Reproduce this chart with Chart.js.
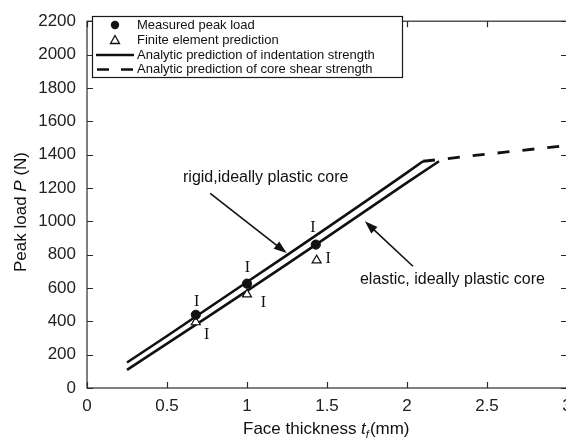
<!DOCTYPE html>
<html>
<head>
<meta charset="utf-8">
<script src="https://cdn.jsdelivr.net/npm/chart.js@4.4.1/dist/chart.umd.min.js"></script>
<style>
  html, body { margin: 0; padding: 0; background: #fff; overflow: hidden; }
  #wrap { width: 580px; height: 444px; }
</style>
</head>
<body>
<div id="wrap"><canvas id="c" width="580" height="444"></canvas></div>
<script>
// Peak load versus face thickness of sandwich panels
const measuredT = [0.68, 1.0, 1.43];
const measuredP = [439, 626, 860];

const feT = [0.68, 1.0, 1.435];
const feP = [395, 562, 766];

// Analytic indentation strength, rigid ideally plastic core
const rigidT = [0.25, 0.5, 0.75, 1.0, 1.25, 1.5, 1.75, 2.0, 2.1];
const rigidP = [153, 312, 474, 636, 797, 960, 1125, 1292, 1360];

// Analytic indentation strength, elastic ideally plastic core
const elasticT = [0.25, 0.5, 0.75, 1.0, 1.25, 1.5, 1.75, 2.0, 2.2];
const elasticP = [109, 266, 424, 583, 743, 905, 1068, 1232, 1360];

// Analytic core shear strength
const shearT = [2.1, 2.2, 2.4, 2.6, 2.8, 3.0];
const shearP = [1360, 1370, 1392, 1413, 1434, 1455];

const xTicks = [0, 0.5, 1, 1.5, 2, 2.5, 3];
const yTicks = [0, 200, 400, 600, 800, 1000, 1200, 1400, 1600, 1800, 2000, 2200];

const legendLabels = [
  'Measured peak load',
  'Finite element prediction',
  'Analytic prediction of indentation strength',
  'Analytic prediction of core shear strength'
];

const SANS = '"Liberation Sans", Arial, sans-serif';
const SERIF = '"Liberation Serif", "Times New Roman", serif';

const pts = (xs, ys) => xs.map((x, i) => ({ x: x, y: ys[i] }));

// "I" scatter-band markers placed next to each measurement, in data units
const bandMarks = [
  { x: 0.686, y: 518 }, { x: 1.002, y: 718 }, { x: 1.412, y: 963 },
  { x: 0.748, y: 319 }, { x: 1.102, y: 514 }, { x: 1.508, y: 776 }
];

const notes = [
  { text: 'rigid,ideally plastic core', x: 0.6, y: 1261,
    arrow: { from: { x: 0.77, y: 1167 }, to: { x: 1.248, y: 809 } } },
  { text: 'elastic, ideally plastic core', x: 1.706, y: 648,
    arrow: { from: { x: 2.037, y: 730 }, to: { x: 1.737, y: 1000 } } }
];

function arrow(ctx, x1, y1, x2, y2) {
  const a = Math.atan2(y2 - y1, x2 - x1);
  const L = 13, W = 4.5;
  ctx.beginPath();
  ctx.moveTo(x1, y1);
  ctx.lineTo(x2 - Math.cos(a) * (L - 2), y2 - Math.sin(a) * (L - 2));
  ctx.stroke();
  ctx.beginPath();
  ctx.moveTo(x2, y2);
  ctx.lineTo(x2 - Math.cos(a) * L - Math.sin(a) * W, y2 - Math.sin(a) * L + Math.cos(a) * W);
  ctx.lineTo(x2 - Math.cos(a) * L + Math.sin(a) * W, y2 - Math.sin(a) * L - Math.cos(a) * W);
  ctx.closePath();
  ctx.fill();
}

const decorations = {
  id: 'decorations',
  afterDraw(chart) {
    const ctx = chart.ctx;
    const xs = chart.scales.x, ys = chart.scales.y;
    const a = chart.chartArea;
    ctx.save();

    // frame with inward ticks on all four sides
    ctx.strokeStyle = '#2a2a2a';
    ctx.lineWidth = 1.2;
    ctx.strokeRect(a.left, a.top, a.right - a.left, a.bottom - a.top);
    ctx.beginPath();
    const tl = 6;
    xTicks.forEach(v => {
      const px = Math.round(xs.getPixelForValue(v)) + 0.5;
      ctx.moveTo(px, a.bottom); ctx.lineTo(px, a.bottom - tl);
      ctx.moveTo(px, a.top); ctx.lineTo(px, a.top + tl);
    });
    yTicks.forEach(v => {
      const py = Math.round(ys.getPixelForValue(v)) + 0.5;
      ctx.moveTo(a.left, py); ctx.lineTo(a.left + tl, py);
      ctx.moveTo(a.right, py); ctx.lineTo(a.right - tl, py);
    });
    ctx.stroke();

    // "I" markers
    ctx.fillStyle = '#111';
    ctx.font = '16px ' + SERIF;
    ctx.textAlign = 'center';
    ctx.textBaseline = 'middle';
    bandMarks.forEach(m => {
      ctx.fillText('I', xs.getPixelForValue(m.x), ys.getPixelForValue(m.y));
    });

    // annotations with arrows
    ctx.font = '16px ' + SANS;
    ctx.textAlign = 'left';
    ctx.strokeStyle = '#111';
    ctx.lineWidth = 1.6;
    notes.forEach(n => {
      ctx.fillText(n.text, xs.getPixelForValue(n.x), ys.getPixelForValue(n.y));
      arrow(ctx,
        xs.getPixelForValue(n.arrow.from.x), ys.getPixelForValue(n.arrow.from.y),
        xs.getPixelForValue(n.arrow.to.x), ys.getPixelForValue(n.arrow.to.y));
    });

    // axis titles
    ctx.fillStyle = '#111';
    ctx.textBaseline = 'alphabetic';
    ctx.font = '17px ' + SANS;
    let x = 243, y = 434;
    const parts = [
      ['Face thickness ', '17px ' + SANS, 0],
      ['t', 'italic 17px ' + SANS, 0],
      ['f', 'italic 11px ' + SANS, 4],
      ['(mm)', '17px ' + SANS, 0]
    ];
    parts.forEach(p => {
      ctx.font = p[1];
      ctx.fillText(p[0], x, y + p[2]);
      x += ctx.measureText(p[0]).width + (p[0] === 'f' ? 1 : 0);
    });

    ctx.save();
    ctx.translate(26, 272);
    ctx.rotate(-Math.PI / 2);
    let tx = 0;
    [['Peak load ', '17px ' + SANS], ['P', 'italic 17px ' + SANS], [' (N)', '17px ' + SANS]].forEach(p => {
      ctx.font = p[1];
      ctx.fillText(p[0], tx, 0);
      tx += ctx.measureText(p[0]).width;
    });
    ctx.restore();

    // legend box
    const bx = 92.5, by = 16.5, bw = 310, bh = 61;
    ctx.fillStyle = '#fff';
    ctx.fillRect(bx, by, bw, bh);
    ctx.strokeStyle = '#1a1a1a';
    ctx.lineWidth = 1.2;
    ctx.strokeRect(bx, by, bw, bh);

    const rows = [25, 40, 55, 69.5];
    const mx = 115, textX = 137;
    ctx.fillStyle = '#111';
    ctx.beginPath();
    ctx.arc(mx, rows[0], 4.2, 0, Math.PI * 2);
    ctx.fill();

    ctx.lineWidth = 1.3;
    ctx.strokeStyle = '#111';
    ctx.beginPath();
    ctx.moveTo(mx, rows[1] - 4.5);
    ctx.lineTo(mx + 4.5, rows[1] + 3.5);
    ctx.lineTo(mx - 4.5, rows[1] + 3.5);
    ctx.closePath();
    ctx.stroke();

    ctx.lineWidth = 2.5;
    ctx.beginPath();
    ctx.moveTo(96, rows[2]); ctx.lineTo(134, rows[2]);
    ctx.stroke();
    ctx.setLineDash([12, 12]);
    ctx.beginPath();
    ctx.moveTo(97, rows[3]); ctx.lineTo(134, rows[3]);
    ctx.stroke();
    ctx.setLineDash([]);

    ctx.font = '13px ' + SANS;
    ctx.textAlign = 'left';
    ctx.textBaseline = 'middle';
    legendLabels.forEach((t, i) => ctx.fillText(t, textX, rows[i]));

    ctx.restore();
  }
};

new Chart(document.getElementById('c'), {
  type: 'scatter',
  data: {
    datasets: [
      { label: legendLabels[0], data: pts(measuredT, measuredP), order: 0,
        pointStyle: 'circle', pointRadius: 4.6, backgroundColor: '#111', borderColor: '#111',
        borderWidth: 1, showLine: false },
      { label: legendLabels[1], data: pts(feT, feP), order: 1,
        pointStyle: 'triangle', pointRadius: 5.2, backgroundColor: '#fff', borderColor: '#111',
        borderWidth: 1.2, showLine: false },
      { label: 'rigid', data: pts(rigidT, rigidP), order: 2,
        showLine: true, pointRadius: 0, borderColor: '#111', borderWidth: 2.6, tension: 0 },
      { label: 'elastic', data: pts(elasticT, elasticP), order: 3,
        showLine: true, pointRadius: 0, borderColor: '#111', borderWidth: 2.6, tension: 0 },
      { label: legendLabels[3], data: pts(shearT, shearP), order: 4,
        showLine: true, pointRadius: 0, borderColor: '#111', borderWidth: 2.8,
        borderDash: [12, 13], tension: 0 }
    ]
  },
  options: {
    responsive: false,
    animation: false,
    layout: { padding: { left: 0, top: 11, right: 13, bottom: 0 } },
    plugins: { legend: { display: false }, tooltip: { enabled: false } },
    scales: {
      x: {
        type: 'linear', min: 0, max: 3,
        afterBuildTicks(s) { s.ticks = xTicks.map(v => ({ value: v })); },
        afterFit(s) { s.height = 56; },
        grid: { display: false, drawTicks: false },
        border: { display: false },
        ticks: { padding: 8, color: '#222', font: { family: SANS, size: 17 },
                 maxRotation: 0, autoSkip: false, callback: v => String(v) }
      },
      y: {
        type: 'linear', min: 0, max: 2200,
        afterBuildTicks(s) { s.ticks = yTicks.map(v => ({ value: v })); },
        afterFit(s) { s.width = 87; },
        grid: { display: false, drawTicks: false },
        border: { display: false },
        ticks: { padding: 11, color: '#222', font: { family: SANS, size: 17 },
                 autoSkip: false, callback: v => String(v) }
      }
    }
  },
  plugins: [decorations]
});
</script>
</body>
</html>
